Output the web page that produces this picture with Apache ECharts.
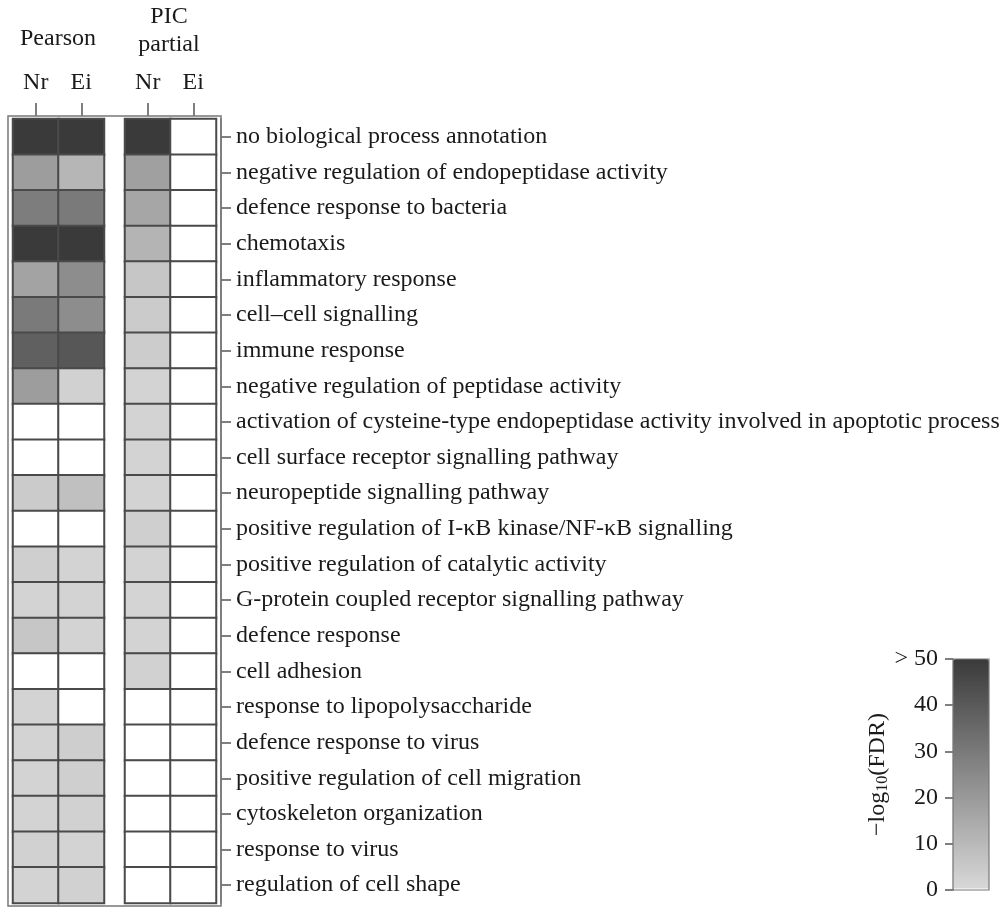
<!DOCTYPE html>
<html>
<head>
<meta charset="utf-8">
<script src="https://cdn.jsdelivr.net/npm/echarts@6/dist/echarts.min.js"></script>
<style>
html,body{margin:0;padding:0;background:#fff;}
#chart{width:1003px;height:908px;}
</style>
</head>
<body>
<div id="chart"></div>
<script>
// GO term categories (top to bottom)
const terms = [
  'no biological process annotation',
  'negative regulation of endopeptidase activity',
  'defence response to bacteria',
  'chemotaxis',
  'inflammatory response',
  'cell\u2013cell signalling',
  'immune response',
  'negative regulation of peptidase activity',
  'activation of cysteine-type endopeptidase activity involved in apoptotic process',
  'cell surface receptor signalling pathway',
  'neuropeptide signalling pathway',
  'positive regulation of I-\u03baB kinase/NF-\u03baB signalling',
  'positive regulation of catalytic activity',
  'G-protein coupled receptor signalling pathway',
  'defence response',
  'cell adhesion',
  'response to lipopolysaccharide',
  'defence response to virus',
  'positive regulation of cell migration',
  'cytoskeleton organization',
  'response to virus',
  'regulation of cell shape'
];
const columns = ['Nr', 'Ei'];
// -log10(FDR) values, capped at 50; null = not significant (white)
const pearsonNr = [50, 19, 29, 50, 17, 30, 38, 19, null, null, 4.5, null, 3, 2, 6, null, 2, 2, 2, 2, 2.5, 2];
const pearsonEi = [50, 11, 30, 50, 24, 24, 41, 2.5, null, null, 8, null, 2, 2, 2, null, null, 3.5, 3, 2.5, 2, 2.5];
const picNr     = [50, 18, 16, 11.5, 6, 4.5, 4, 2, 2, 2, 2, 3, 2, 1.5, 2, 2.5, null, null, null, null, null, null];
const picEi     = [null, null, null, null, null, null, null, null, null, null, null, null, null, null, null, null, null, null, null, null, null, null];
const barTicks = [0, 10, 20, 30, 40, 50];

function cells(a, b) {
  const out = [];
  terms.forEach((t, i) => {
    out.push([0, i, a[i] == null ? -1 : a[i]]);
    out.push([1, i, b[i] == null ? -1 : b[i]]);
  });
  return out;
}

const font = 'Liberation Serif';
const fs = 24;
const txt = '#1a1a1a';
const chart = echarts.init(document.getElementById('chart'));

const topAxis = (gi) => ({
  type: 'category', gridIndex: gi, data: columns, position: 'top', offset: 3,
  axisLine: {show: false},
  axisTick: {show: true, alignWithLabel: true, length: 13, lineStyle: {color: '#555', width: 1.5}},
  axisLabel: {fontFamily: font, fontSize: fs, color: txt, margin: 21},
  splitLine: {show: false}
});

chart.setOption({
  backgroundColor: '#fff',
  animation: false,
  grid: [
    {left: 13, top: 119, width: 91, height: 784},
    {left: 125, top: 119, width: 91, height: 784},
    {left: 953, top: 659, width: 36, height: 231, show: true, borderColor: '#777', borderWidth: 1.2, backgroundColor: 'transparent', z: 5}
  ],
  xAxis: [
    topAxis(0),
    topAxis(1),
    {type: 'value', gridIndex: 2, show: false, min: 0, max: 1}
  ],
  yAxis: [
    {type: 'category', gridIndex: 0, data: terms, inverse: true, show: false},
    {type: 'category', gridIndex: 1, data: terms, inverse: true, position: 'right', offset: 5,
     axisLine: {show: true, lineStyle: {color: '#777', width: 1.5}},
     axisTick: {show: true, alignWithLabel: true, length: 10, lineStyle: {color: '#555', width: 1.5}},
     axisLabel: {fontFamily: font, fontSize: fs, color: txt, margin: 15},
     splitLine: {show: false}},
    {type: 'value', gridIndex: 2, min: 0, max: 50, interval: 10, position: 'left',
     axisLine: {show: true, lineStyle: {color: '#777', width: 1.2}},
     axisTick: {show: true, length: 8, lineStyle: {color: '#555', width: 1.5}},
     axisLabel: {fontFamily: font, fontSize: fs, color: txt, margin: 15,
       formatter: v => (v === barTicks[barTicks.length - 1] ? '> ' + v : String(v))},
     splitLine: {show: false},
     name: '{a|\u2212log}{b|10}{a|(FDR)}', nameLocation: 'middle', nameRotate: 90, nameGap: 60,
     nameTextStyle: {fontFamily: font, color: txt,
       rich: {a: {fontFamily: font, fontSize: fs, color: txt},
              b: {fontFamily: font, fontSize: 16, color: txt, padding: [10, 0, 0, 0]}}}}
  ],
  visualMap: {
    type: 'continuous', min: 0, max: 50, range: [0.3, 50], seriesIndex: [0, 1], calculable: false,
    left: 953, top: 659, itemWidth: 36, itemHeight: 231, padding: 0, text: null,
    inRange: {color: ['#d9d9d9', '#3a3a3a']},
    outOfRange: {color: '#ffffff'}
  },
  graphic: [
    {type: 'rect', shape: {x: 8, y: 116, width: 213, height: 790}, style: {fill: 'none', stroke: '#777', lineWidth: 1.5}, z: 10},
    {type: 'text', x: 58, y: 39, style: {text: 'Pearson', font: fs + 'px "Liberation Serif"', fill: txt, textAlign: 'center', textVerticalAlign: 'middle'}},
    {type: 'text', x: 169, y: 17, style: {text: 'PIC', font: fs + 'px "Liberation Serif"', fill: txt, textAlign: 'center', textVerticalAlign: 'middle'}},
    {type: 'text', x: 169, y: 45, style: {text: 'partial', font: fs + 'px "Liberation Serif"', fill: txt, textAlign: 'center', textVerticalAlign: 'middle'}}
  ],
  series: [
    {type: 'heatmap', xAxisIndex: 0, yAxisIndex: 0, data: cells(pearsonNr, pearsonEi),
     itemStyle: {borderColor: '#4a4a4a', borderWidth: 2}, emphasis: {disabled: true}},
    {type: 'heatmap', xAxisIndex: 1, yAxisIndex: 1, data: cells(picNr, picEi),
     itemStyle: {borderColor: '#4a4a4a', borderWidth: 2}, emphasis: {disabled: true}}
  ]
});
</script>
</body>
</html>
